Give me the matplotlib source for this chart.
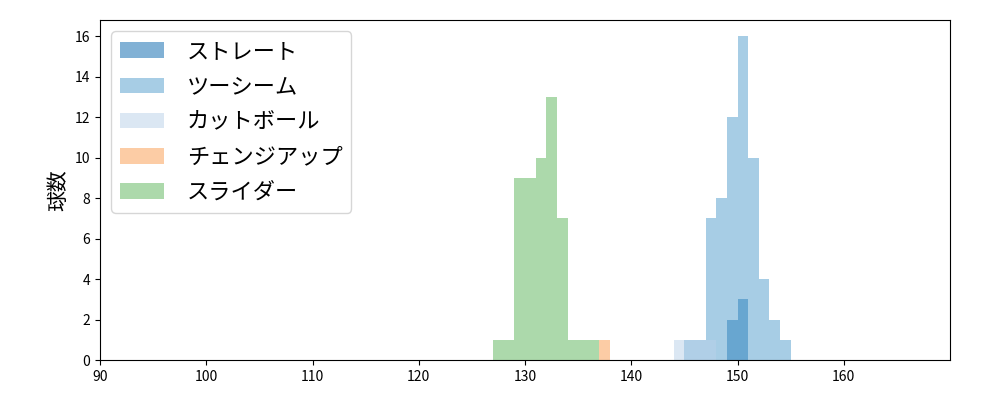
import matplotlib
matplotlib.use('Agg')
import matplotlib.pyplot as plt

plt.rcParams['font.family'] = ['Noto Sans CJK JP', 'DejaVu Sans']

# 球種ごとの球速ヒストグラム (左端, 本数)
names = ['ストレート', 'ツーシーム', 'カットボール', 'チェンジアップ', 'スライダー']
colors = ['#0565ad', '#519dcd', '#b9d1e9', '#fb9b4d', '#5bb559']

straight_left = [149, 150]
straight_cnt = [2, 3]

twoseam_left = [145, 146, 147, 148, 149, 150, 151, 152, 153, 154]
twoseam_cnt = [1, 1, 7, 8, 12, 16, 10, 4, 2, 1]

cutter_left = [144, 145, 146, 147]
cutter_cnt = [1, 1, 1, 1]

change_left = [137]
change_cnt = [1]

slider_left = [127, 128, 129, 130, 131, 132, 133, 134, 135, 136]
slider_cnt = [1, 1, 9, 9, 10, 13, 7, 1, 1, 1]

lefts = [straight_left, twoseam_left, cutter_left, change_left, slider_left]
counts = [straight_cnt, twoseam_cnt, cutter_cnt, change_cnt, slider_cnt]

fig, ax = plt.subplots(figsize=(10, 4), dpi=100)
fig.subplots_adjust(left=0.1, right=0.95, top=0.95, bottom=0.1)

for name, c, x, y in zip(names, colors, lefts, counts):
    ax.bar(x, y, width=1, align='edge', color=c, alpha=0.5, label=name, linewidth=0)

ax.set_xlim(90, 170)
ax.set_ylim(0, 16.8)
ax.set_xticks(range(90, 170, 10))
ax.set_yticks(range(0, 17, 2))
ax.set_ylabel('球数', fontsize=15)
ax.legend(loc='upper left', fontsize=16, handlelength=2.0,
          handletextpad=1.0, labelspacing=0.55)

fig.savefig('out.png')
